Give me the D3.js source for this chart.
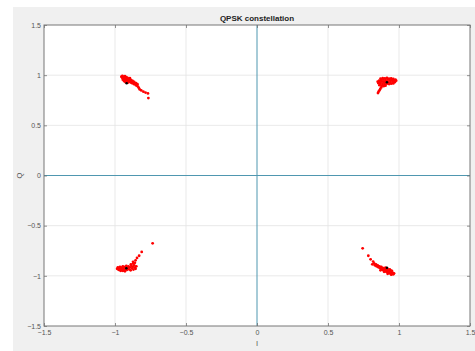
<!DOCTYPE html>
<html>
<head>
<meta charset="utf-8">
<script src="https://cdn.jsdelivr.net/npm/d3@7"></script>
<style>
  body { margin: 0; background: #fff; }
  svg { display: block; font-family: "Liberation Sans", Arial, sans-serif; }
</style>
</head>
<body>
<script>
// received symbols, one list per quadrant: [I, Q]
const clusterTL = [[-0.955,0.985],[-0.950,0.975],[-0.948,0.992],[-0.942,0.968],[-0.940,0.985],[-0.935,0.975],[-0.932,0.958],[-0.930,0.990],[-0.928,0.970],[-0.925,0.948],[-0.922,0.965],[-0.920,0.980],[-0.918,0.955],[-0.915,0.940],[-0.912,0.972],[-0.910,0.960],[-0.905,0.945],[-0.903,0.965],[-0.900,0.935],[-0.898,0.955],[-0.895,0.970],[-0.892,0.945],[-0.890,0.928],[-0.886,0.950],[-0.882,0.935],[-0.880,0.920],[-0.876,0.942],[-0.872,0.925],[-0.868,0.912],[-0.865,0.932],[-0.860,0.915],[-0.855,0.902],[-0.852,0.920],[-0.846,0.895],[-0.842,0.910],[-0.838,0.885],[-0.832,0.872],[-0.826,0.858],[-0.815,0.848],[-0.800,0.835],[-0.785,0.826],[-0.768,0.818],[-0.765,0.772],[-0.945,0.955],[-0.935,0.940],[-0.925,0.930],[-0.910,0.925]];
const clusterTR = [[0.870,0.965],[0.885,0.970],[0.900,0.968],[0.915,0.972],[0.930,0.965],[0.945,0.968],[0.960,0.962],[0.975,0.955],[0.980,0.945],[0.965,0.948],[0.950,0.952],[0.935,0.950],[0.920,0.955],[0.905,0.950],[0.890,0.955],[0.875,0.950],[0.860,0.945],[0.850,0.935],[0.865,0.930],[0.880,0.935],[0.895,0.930],[0.910,0.935],[0.925,0.930],[0.940,0.932],[0.955,0.935],[0.970,0.930],[0.960,0.918],[0.945,0.915],[0.930,0.912],[0.915,0.915],[0.900,0.910],[0.885,0.912],[0.870,0.915],[0.855,0.920],[0.862,0.900],[0.878,0.895],[0.892,0.890],[0.905,0.895],[0.875,0.878],[0.868,0.862],[0.862,0.848],[0.856,0.835],[0.852,0.822]];
const clusterBL = [[-0.985,-0.930],[-0.980,-0.915],[-0.975,-0.940],[-0.970,-0.925],[-0.965,-0.910],[-0.962,-0.945],[-0.958,-0.930],[-0.952,-0.918],[-0.948,-0.938],[-0.945,-0.905],[-0.940,-0.925],[-0.935,-0.945],[-0.930,-0.912],[-0.925,-0.932],[-0.920,-0.900],[-0.915,-0.940],[-0.910,-0.920],[-0.905,-0.905],[-0.900,-0.935],[-0.895,-0.915],[-0.890,-0.945],[-0.885,-0.900],[-0.880,-0.925],[-0.875,-0.910],[-0.870,-0.938],[-0.865,-0.895],[-0.860,-0.918],[-0.855,-0.930],[-0.850,-0.905],[-0.888,-0.885],[-0.872,-0.878],[-0.860,-0.870],[-0.873,-0.860],[-0.855,-0.845],[-0.845,-0.822],[-0.830,-0.800],[-0.812,-0.762],[-0.735,-0.676],[-0.960,-0.950],[-0.945,-0.950],[-0.930,-0.955]];
const clusterBR = [[0.744,-0.726],[0.784,-0.800],[0.800,-0.835],[0.818,-0.858],[0.812,-0.885],[0.825,-0.875],[0.830,-0.895],[0.838,-0.885],[0.842,-0.905],[0.850,-0.895],[0.855,-0.915],[0.862,-0.905],[0.868,-0.925],[0.875,-0.912],[0.880,-0.935],[0.885,-0.920],[0.890,-0.945],[0.895,-0.928],[0.900,-0.952],[0.905,-0.938],[0.910,-0.960],[0.915,-0.945],[0.920,-0.965],[0.925,-0.950],[0.930,-0.972],[0.935,-0.958],[0.940,-0.978],[0.945,-0.962],[0.950,-0.982],[0.955,-0.968],[0.960,-0.985],[0.965,-0.975],[0.935,-0.935],[0.950,-0.950],[0.920,-0.930],[0.905,-0.918],[0.940,-0.945],[0.870,-0.945],[0.895,-0.960],[0.920,-0.980],[0.945,-0.988]];
// dark points inside each cloud
const centers = [[-0.918,0.920],[0.915,0.930],[-0.920,-0.925],[0.915,-0.920]];

const ticks = [-1.5, -1, -0.5, 0, 0.5, 1, 1.5];
const title = "QPSK constellation";

const W = 475, H = 351;
const margin = {left: 44, top: 25, right: 5, bottom: 25};

const svg = d3.select("body").append("svg")
    .attr("width", W)
    .attr("height", H);

// figure background
svg.append("rect")
    .attr("x", 13).attr("y", 7)
    .attr("width", W - 13).attr("height", H - 7)
    .attr("fill", "#f0f0f0");

const x = d3.scaleLinear().domain([-1.5, 1.5]).range([margin.left, W - margin.right]);
const y = d3.scaleLinear().domain([-1.5, 1.5]).range([H - margin.bottom, margin.top]);

svg.append("rect")
    .attr("x", x(-1.5)).attr("y", y(1.5))
    .attr("width", x(1.5) - x(-1.5)).attr("height", y(-1.5) - y(1.5))
    .attr("fill", "#fff");

// grid
let grid = svg.append("g").attr("stroke", "#e3e3e3").attr("stroke-width", 0.8);
grid.selectAll(".gx").data(ticks.slice(1, -1).filter(d => d !== 0)).enter().append("line")
    .attr("x1", d => x(d)).attr("x2", d => x(d))
    .attr("y1", y(1.5)).attr("y2", y(-1.5));
grid.selectAll(".gy").data(ticks.slice(1, -1).filter(d => d !== 0)).enter().append("line")
    .attr("y1", d => y(d)).attr("y2", d => y(d))
    .attr("x1", x(-1.5)).attr("x2", x(1.5));

// zero lines
svg.append("line")
    .attr("x1", x(0)).attr("x2", x(0))
    .attr("y1", y(1.5)).attr("y2", y(-1.5))
    .attr("stroke", "#4f97b0").attr("stroke-width", 1);
svg.append("line")
    .attr("y1", y(0)).attr("y2", y(0))
    .attr("x1", x(-1.5)).attr("x2", x(1.5))
    .attr("stroke", "#4f97b0").attr("stroke-width", 1);

// points
const clusters = [clusterTL, clusterTR, clusterBL, clusterBR];
svg.append("g").selectAll("circle")
    .data(clusters.flat())
    .enter().append("circle")
    .attr("cx", d => x(d[0]))
    .attr("cy", d => y(d[1]))
    .attr("r", 1.4)
    .attr("fill", "#ff0000");

svg.append("g").selectAll("circle")
    .data(centers)
    .enter().append("circle")
    .attr("cx", d => x(d[0]))
    .attr("cy", d => y(d[1]))
    .attr("r", 1.3)
    .attr("fill", "#000");

// axes
const xAxis = d3.axisBottom(x).tickValues(ticks).tickSize(-3).tickPadding(4).tickFormat(d3.format("~g"));
const yAxis = d3.axisLeft(y).tickValues(ticks).tickSize(-3).tickPadding(3).tickFormat(d3.format("~g"));

let gx = svg.append("g").attr("transform", `translate(0,${y(-1.5)})`).call(xAxis);
let gy = svg.append("g").attr("transform", `translate(${x(-1.5)},0)`).call(yAxis);
// top and right ticks
svg.append("g").attr("transform", `translate(0,${y(1.5)})`)
    .call(d3.axisTop(x).tickValues(ticks).tickSize(-3).tickFormat(""));
svg.append("g").attr("transform", `translate(${x(1.5)},0)`)
    .call(d3.axisRight(y).tickValues(ticks).tickSize(-3).tickFormat(""));

svg.selectAll(".domain").remove();
svg.selectAll(".tick line").attr("stroke", "#666").attr("stroke-width", 0.7);
svg.selectAll(".tick text").attr("fill", "#555").attr("font-size", 7);

// box
svg.append("rect")
    .attr("x", x(-1.5)).attr("y", y(1.5))
    .attr("width", x(1.5) - x(-1.5)).attr("height", y(-1.5) - y(1.5))
    .attr("fill", "none").attr("stroke", "#777").attr("stroke-width", 1);

svg.append("text")
    .attr("x", x(0)).attr("y", 21)
    .attr("text-anchor", "middle")
    .attr("font-size", 8).attr("font-weight", "bold")
    .attr("fill", "#222")
    .text(title);

svg.append("text")
    .attr("x", x(0)).attr("y", 346)
    .attr("text-anchor", "middle")
    .attr("font-size", 7.5).attr("fill", "#555")
    .text("I");

svg.append("text")
    .attr("transform", `translate(22,${y(0)}) rotate(-90)`)
    .attr("text-anchor", "middle")
    .attr("font-size", 7.5).attr("fill", "#555")
    .text("Q");
</script>
</body>
</html>
